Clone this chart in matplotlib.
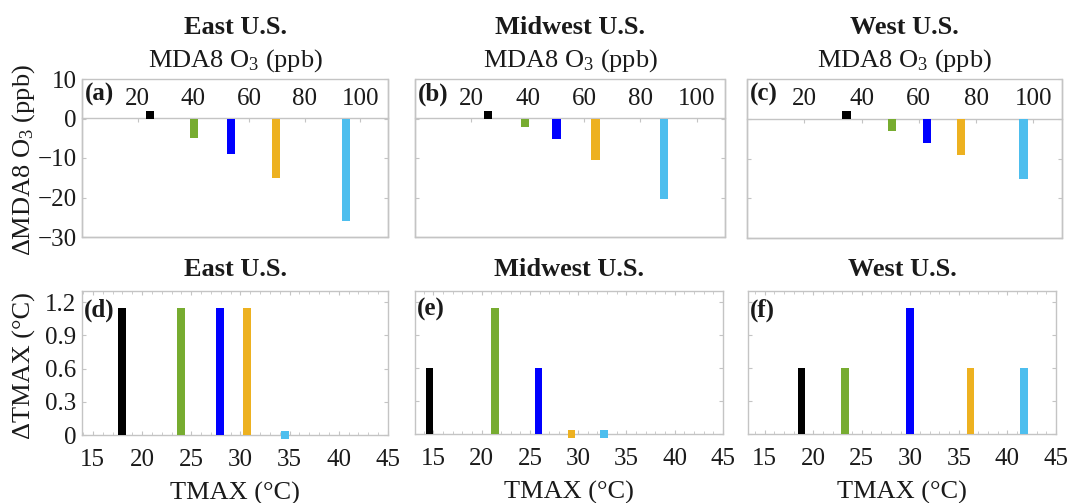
import numpy as np
import matplotlib
matplotlib.use("Agg")
import matplotlib.pyplot as plt
from matplotlib.ticker import MultipleLocator

plt.rcParams['font.family'] = ['Liberation Serif', 'DejaVu Serif']
plt.rcParams['mathtext.fontset'] = 'custom'
plt.rcParams['mathtext.rm'] = 'Liberation Serif'
plt.rcParams['mathtext.it'] = 'Liberation Serif:italic'
plt.rcParams['mathtext.bf'] = 'Liberation Serif:bold'

# ---------------- data ----------------
colors = ['#000000', '#77AC30', '#0000FF', '#EDB120', '#4DBEEE']
regions = ['East U.S.', 'Midwest U.S.', 'West U.S.']

# top row: MDA8 O3 (ppb) vs change in MDA8 O3 (ppb)
o3_x_east = [24.4, 40.3, 53.6, 69.7, 94.8]
o3_d_east = [2.0, -5.0, -9.0, -15.0, -26.0]
o3_x_mid = [25.9, 39.0, 50.2, 64.1, 88.3]
o3_d_mid = [1.8, -2.2, -5.3, -10.4, -20.5]
o3_x_west = [34.8, 50.7, 62.8, 74.7, 96.6]
o3_d_west = [2.0, -3.0, -6.1, -9.1, -15.1]

# bottom row: TMAX (C) vs change in TMAX (C)
t_x_east = [18.0, 24.0, 27.9, 30.7, 34.5]
t_d_east = [1.15, 1.15, 1.15, 1.15, 0.0]
t_x_mid = [14.6, 21.4, 25.9, 29.3, 32.7]
t_d_mid = [0.6, 1.15, 0.6, 0.0, 0.0]
t_x_west = [18.8, 23.3, 30.0, 36.2, 41.7]
t_d_west = [0.6, 0.6, 1.15, 0.6, 0.6]

o3_ticks = [20, 40, 60, 80, 100]
o3_yticks = [10, 0, -10, -20, -30]
t_ticks = [15, 20, 25, 30, 35, 40, 45]
t_yticks = [0, 0.3, 0.6, 0.9, 1.2]
t_yticklabels = ['0', '0.3', '0.6', '0.9', '1.2']
top_panels = ['(a)', '(b)', '(c)']
bot_panels = ['(d)', '(e)', '(f)']

# ---------------- layout ----------------
W, H = 1070, 503
fig = plt.figure(figsize=(W / 100, H / 100), dpi=100)

def add_ax(l, t, r, b):
    return fig.add_axes([l / W, 1 - b / H, (r - l) / W, (b - t) / H])

top_boxes = [(82, 79, 388, 237), (415, 79, 725, 237), (747, 79, 1062, 238)]
bot_boxes = [(82, 291, 388, 435), (415, 291, 723, 434), (748, 291, 1056, 434)]
t_xlims = [(13.9, 45), (13.1, 45), (13.3, 45)]

SPINE = '#c4c4c4'
TXT = '#1a1a1a'
TICKFS = 18
TITLEFS = 19

top_data = [(o3_x_east, o3_d_east), (o3_x_mid, o3_d_mid), (o3_x_west, o3_d_west)]
bot_data = [(t_x_east, t_d_east), (t_x_mid, t_d_mid), (t_x_west, t_d_west)]

for i, (box, (xs, ds)) in enumerate(zip(top_boxes, top_data)):
    ax = add_ax(*box)
    ax.set_xlim(0, 110)
    ax.set_ylim(-30, 10)
    ax.bar(xs, ds, width=3.0, color=colors, linewidth=0, zorder=3)
    # x axis drawn along zero line with labels above
    ax.xaxis.tick_top()
    ax.spines['top'].set_position(('data', 0))
    ax.patch.set_edgecolor(SPINE)
    ax.patch.set_linewidth(1.0)
    for s in ['left', 'right', 'bottom', 'top']:
        ax.spines[s].set_color(SPINE)
        ax.spines[s].set_linewidth(1.0)
    ax.set_xticks(o3_ticks)
    ax.set_xticklabels([str(v) for v in o3_ticks])
    ax.tick_params(axis='x', direction='in', length=3, color=SPINE,
                   labelsize=TICKFS, labelcolor=TXT, pad=6)
    ax.set_yticks(o3_yticks)
    ax.tick_params(axis='y', direction='in', length=3, color=SPINE,
                   left=True, right=True, labelsize=TICKFS, labelcolor=TXT, pad=4)
    if i == 0:
        ax.set_yticklabels([str(v).replace('-', '\u2212') for v in o3_yticks])
    else:
        ax.set_yticklabels([])
    ax.text(0.01, 0.975, top_panels[i], transform=ax.transAxes, ha='left', va='top',
            fontsize=18, fontweight='bold', color=TXT)
    cx = (box[0] + box[2]) / 2 / W
    fig.text(cx, 1 - 28 / H, regions[i], ha='center', va='center',
             fontsize=TITLEFS, fontweight='bold', color=TXT)
    fig.text(cx, 1 - 61 / H, 'MDA8 O$_{\\mathrm{3}}$ (ppb)', ha='center', va='center',
             fontsize=TITLEFS, color=TXT)

for i, (box, (xs, ds)) in enumerate(zip(bot_boxes, bot_data)):
    ax = add_ax(*box)
    ax.set_xlim(*t_xlims[i])
    ax.set_ylim(0, 1.3)
    xs_a = np.array(xs)
    ds_a = np.array(ds)
    ax.bar(xs_a, ds_a, width=0.8, color=colors, linewidth=0, zorder=3)
    zero = ds_a == 0
    if zero.any():
        ax.scatter(xs_a[zero], ds_a[zero], marker='s', s=30,
                   c=[colors[k] for k in np.where(zero)[0]], linewidths=0,
                   zorder=4, clip_on=False)
    for s in ['left', 'right', 'bottom', 'top']:
        ax.spines[s].set_color(SPINE)
        ax.spines[s].set_linewidth(1.0)
    ax.set_xticks(t_ticks)
    ax.xaxis.set_minor_locator(MultipleLocator(1))
    ax.tick_params(axis='x', which='both', direction='in', top=True, bottom=True,
                   color=SPINE, labelsize=TICKFS, labelcolor=TXT, pad=10)
    ax.tick_params(axis='x', which='major', length=3)
    ax.tick_params(axis='x', which='minor', length=2.5)
    ax.set_yticks(t_yticks)
    ax.tick_params(axis='y', direction='in', length=3, color=SPINE,
                   left=True, right=True, labelsize=TICKFS, labelcolor=TXT, pad=4)
    if i == 0:
        ax.set_yticklabels(t_yticklabels)
    else:
        ax.set_yticklabels([])
    ax.set_xlabel('TMAX (\u00b0C)', fontsize=TITLEFS, color=TXT, labelpad=8)
    ax.text(0.005, 0.95, bot_panels[i], transform=ax.transAxes, ha='left', va='top',
            fontsize=18, fontweight='bold', color=TXT)
    cx = (box[0] + box[2]) / 2 / W
    fig.text(cx, 1 - 269 / H, regions[i], ha='center', va='center',
             fontsize=TITLEFS, fontweight='bold', color=TXT)

fig.text(24 / W, 1 - 160 / H, '\u0394MDA8 O$_{\\mathrm{3}}$ (ppb)', rotation=90,
         ha='center', va='center', fontsize=TITLEFS, color=TXT)
fig.text(24 / W, 1 - 366 / H, '\u0394TMAX (\u00b0C)', rotation=90,
         ha='center', va='center', fontsize=TITLEFS, color=TXT)

fig.savefig('out.png', dpi=100, facecolor='white')
